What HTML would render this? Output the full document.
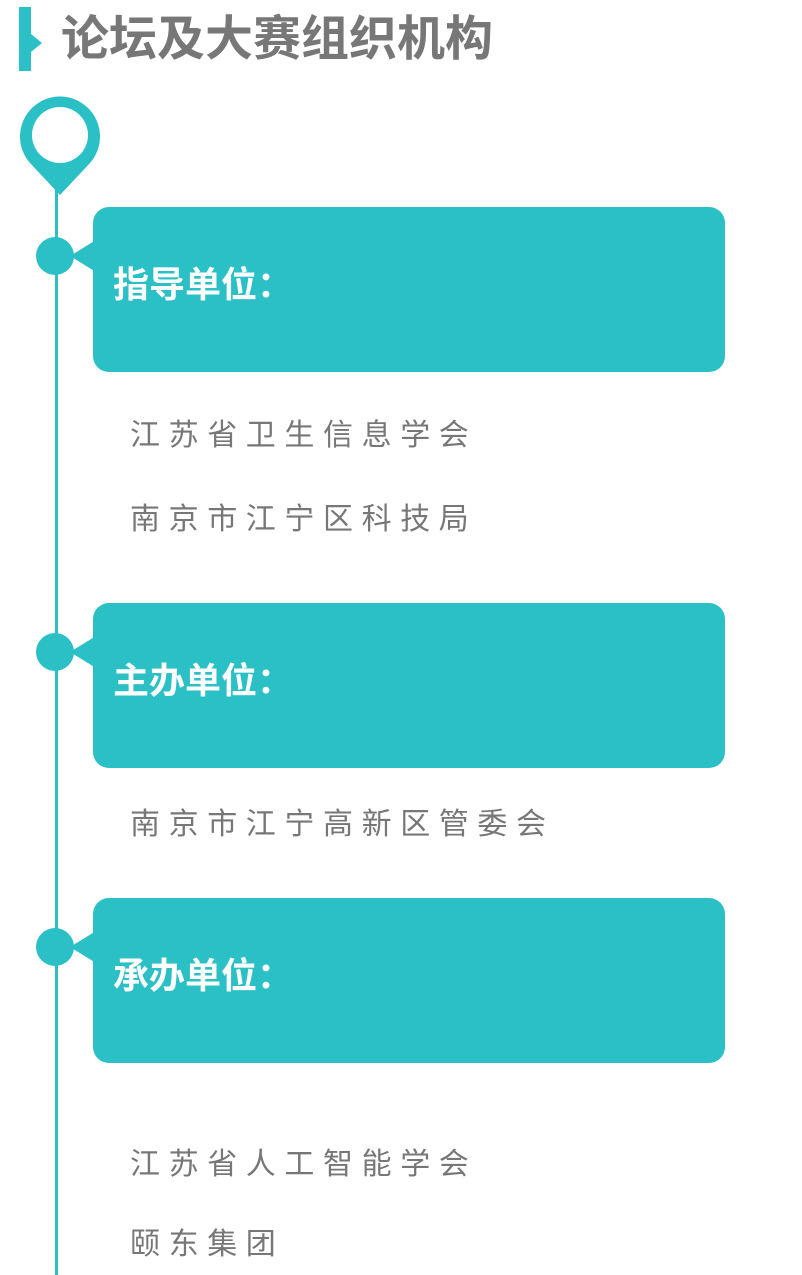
<!DOCTYPE html>
<html><head><meta charset="utf-8"><style>
body{margin:0;width:802px;height:1275px;background:#fff;position:relative;overflow:hidden;font-family:"Liberation Sans","Noto Sans CJK SC",sans-serif}
.a{position:absolute}
.box{position:absolute;left:93px;width:632px;height:165px;background:#2ac0c6;border-radius:16px}
.box span{position:absolute;left:20px;top:58px;color:#fff;font-weight:bold;font-size:36px;line-height:40px}
.dot{position:absolute;left:36px;width:38px;height:38px;border-radius:50%;background:#2ac0c6}
.tri{position:absolute;left:70px;width:0;height:0;border-top:16px solid transparent;border-bottom:16px solid transparent;border-right:26px solid #2ac0c6}
.t{position:absolute;left:130px;color:#777;font-size:30px;letter-spacing:8.6px;line-height:36px;white-space:nowrap}
</style></head><body>
<div class="a" style="left:19px;top:7px;width:12px;height:64px;background:#2ac0c6"></div>
<div class="a" style="left:31px;top:34px;width:0;height:0;border-top:9px solid transparent;border-bottom:9px solid transparent;border-left:11px solid #2ac0c6"></div>
<div class="a" style="left:61px;top:14px;font-size:48px;font-weight:bold;color:#777;line-height:52px;white-space:nowrap">论坛及大赛组织机构</div>
<div class="a" style="left:55px;top:180px;width:3px;height:1095px;background:#2ac0c6"></div>
<svg class="a" style="left:0;top:0" width="120" height="200"><path d="M60 195 L30 163 A40 40 0 1 1 90 163 Z" fill="#2ac0c6"/><circle cx="60" cy="135" r="28" fill="#fff"/></svg>
<div class="box" style="top:207px"><span>指导单位：</span></div>
<div class="tri" style="top:240px"></div><div class="dot" style="top:237px"></div>
<div class="box" style="top:603px"><span>主办单位：</span></div>
<div class="tri" style="top:636px"></div><div class="dot" style="top:633px"></div>
<div class="box" style="top:898px"><span>承办单位：</span></div>
<div class="tri" style="top:931px"></div><div class="dot" style="top:928px"></div>
<div class="t" style="top:418px">江苏省卫生信息学会</div>
<div class="t" style="top:502px">南京市江宁区科技局</div>
<div class="t" style="top:807px">南京市江宁高新区管委会</div>
<div class="t" style="top:1147px">江苏省人工智能学会</div>
<div class="t" style="top:1227px">颐东集团</div>
</body></html>
